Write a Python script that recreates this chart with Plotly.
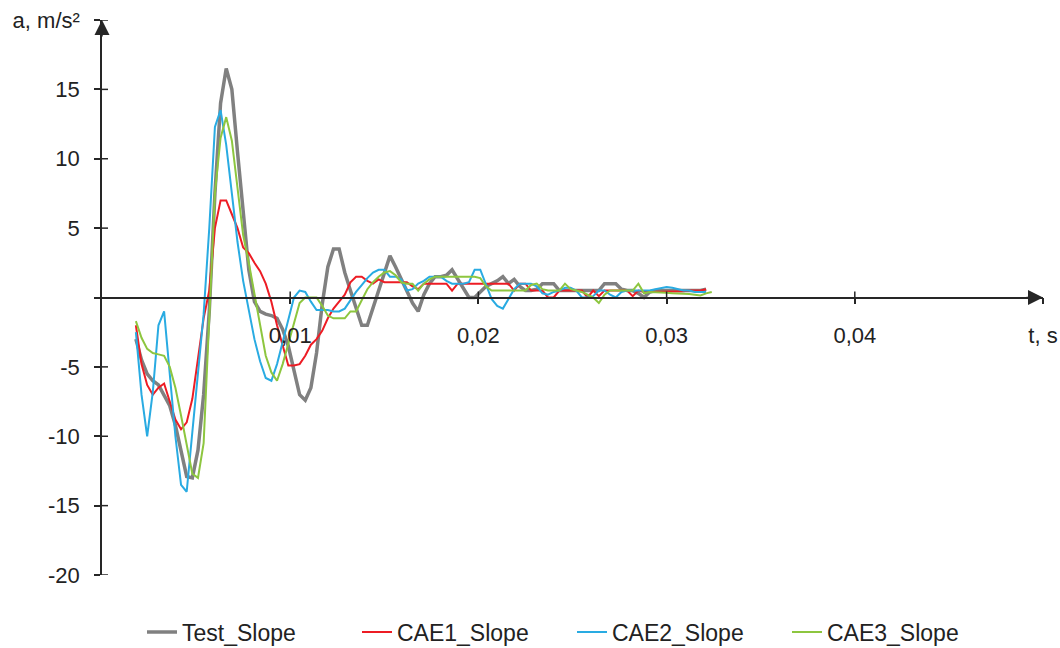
import plotly.graph_objects as go

# time grid (s)
T0 = 0.0018
DT = 0.0003

test_slope = [-3.0, -4.5, -5.5, -6.0, -6.3, -7.0, -7.8, -9.2, -11.0, -12.9,
              -13.0, -11.0, -7.0, -1.0, 7.5, 14.0, 16.5, 15.0, 10.5, 6.0,
              2.0, -0.3, -1.0, -1.2, -1.3, -1.5, -2.3, -3.5, -5.2, -7.0,
              -7.4, -6.5, -4.0, -0.5, 2.2, 3.5, 3.5, 1.8, 0.5, -0.8,
              -2.0, -2.0, -0.7, 0.5, 1.8, 3.0, 2.2, 1.3, 0.4, -0.4,
              -1.0, 0.2, 1.0, 1.5, 1.5, 1.6, 2.0, 1.3, 0.6, 0.0,
              0.0, 0.4, 0.8, 1.0, 1.2, 1.5, 1.0, 1.3, 0.8, 0.5,
              0.5, 0.6, 1.0, 1.0, 1.0, 0.5, 0.5, 0.5, 0.5, 0.5,
              0.5, 0.5, 0.5, 1.0, 1.0, 1.0, 0.6, 0.5, 0.5, 0.3,
              0.0, 0.4, 0.5, 0.5, 0.5, 0.5, 0.5, 0.5, 0.5, 0.5,
              0.5, 0.6]

cae1_slope = [-2.0, -4.8, -6.3, -7.0, -6.5, -6.2, -7.5, -8.8, -9.5, -9.0,
              -7.3, -4.5, -1.5, 0.5, 5.0, 7.0, 7.0, 6.0, 5.0, 3.6,
              3.2, 2.5, 1.9, 1.0, -0.3, -2.0, -3.4, -4.9, -4.9, -4.8,
              -4.2, -3.4, -3.0, -2.4, -1.5, -0.8, -0.3, 0.2, 1.1, 1.5,
              1.5, 1.2, 1.0, 1.3, 1.1, 1.1, 1.1, 1.1, 1.1, 0.8,
              0.6, 1.0, 1.0, 1.0, 1.0, 1.0, 0.5, 1.0, 1.0, 1.0,
              1.0, 1.0, 1.0, 1.0, 1.0, 1.0, 1.0, 0.5, 1.0, 1.0,
              0.5, 0.5, 0.5, 0.0, 0.0, 0.5, 0.5, 0.5, 0.5, 0.5,
              0.0, 0.5, 0.1, 0.5, 0.5, 0.5, 0.5, 0.5, 0.1, 0.5,
              0.4, 0.4, 0.4, 0.4, 0.4, 0.4, 0.4, 0.45, 0.5, 0.5,
              0.5, 0.6]

cae2_slope = [-2.5, -7.0, -10.0, -6.8, -2.0, -1.0, -5.5, -10.0, -13.5, -14.0,
              -9.7, -5.5, -1.2, 5.0, 12.3, 13.5, 11.0, 7.5, 4.0, 1.2,
              -1.0, -3.0, -4.6, -5.8, -6.0, -4.8, -3.2, -1.5, 0.0, 0.5,
              0.4, -0.3, -0.9, -0.9, -0.9, -1.0, -1.0, -0.8, -0.2, 0.4,
              0.9, 1.4, 1.8, 2.0, 2.0, 1.5, 1.5, 1.3, 0.5, 0.6,
              1.0, 1.2, 1.5, 1.5, 1.5, 1.2, 1.0, 1.0, 1.0, 1.1,
              2.0, 2.0, 1.0, -0.1, -0.6, -0.8, -0.1, 0.6, 1.0, 1.0,
              1.0, 0.8, 0.3, 0.2, 0.4, 0.5, 0.7, 0.7, 0.5, 0.0,
              0.0, 0.1, 0.5, 0.5, 0.2, 0.0, 0.4, 0.5, 0.5, 0.5,
              0.5, 0.5, 0.6, 0.7, 0.75, 0.7, 0.6, 0.5, 0.5, 0.4,
              0.4, 0.4]

cae3_slope = [-1.7, -2.9, -3.7, -4.0, -4.1, -4.2, -5.0, -6.5, -8.5, -10.5,
              -12.7, -13.0, -10.5, -1.5, 7.5, 11.5, 13.0, 11.3, 8.0, 4.5,
              2.5, 0.3, -2.2, -4.2, -5.4, -6.0, -4.8, -3.3, -1.7, -0.4,
              0.0, 0.0, 0.0, -0.6, -1.3, -1.5, -1.5, -1.5, -1.0, -1.0,
              -0.2, 0.6, 1.1, 1.5, 1.8, 1.9, 1.6, 1.1, 1.0, 1.0,
              0.5, 1.0, 1.3, 1.5, 1.5, 1.5, 1.5, 1.5, 1.5, 1.5,
              1.5, 1.4, 0.8, 0.5, 0.5, 0.5, 0.5, 0.5, 0.5, 0.5,
              0.9, 1.0, 0.6, 0.5, 0.5, 0.5, 1.0, 0.6, 0.5, 0.4,
              0.2, 0.0, -0.4, 0.2, 0.5, 0.5, 0.5, 0.5, 0.5, 1.0,
              0.3, 0.4, 0.4, 0.4, 0.35, 0.3, 0.3, 0.3, 0.25, 0.2,
              0.15, 0.3, 0.4]

series_names = ["Test_Slope", "CAE1_Slope", "CAE2_Slope", "CAE3_Slope"]
series_values = [test_slope, cae1_slope, cae2_slope, cae3_slope]
series_colors = ["#808080", "#ed1c24", "#29abe2", "#8dc63f"]
series_widths = [3.5, 2, 2, 2]

x_tickvals = [0.01, 0.02, 0.03, 0.04, 0.05]
x_ticktext = ["0,01", "0,02", "0,03", "0,04", "t, s"]
y_tickvals = [-20, -15, -10, -5, 0, 5, 10, 15, 20]
y_ticktext = ["-20", "-15", "-10", "-5", "", "5", "10", "15", "a, m/s²"]

FONT = "Liberation Sans, Arial, sans-serif"
AXIS_COLOR = "#262626"
TEXT_COLOR = "#222222"

fig = go.Figure()
for name, vals, col, w in zip(series_names, series_values, series_colors, series_widths):
    t = [round(T0 + DT * i, 6) for i in range(len(vals))]
    fig.add_trace(go.Scatter(x=t, y=vals, mode="lines", name=name,
                             line=dict(color=col, width=w)))

shapes = []
# inner halves of the crossing tick marks
for v in y_tickvals:
    if v == 0:
        continue
    shapes.append(dict(type="line", xref="x", yref="y", xsizemode="pixel", xanchor=0,
                       x0=0, x1=6, y0=v, y1=v, line=dict(color=AXIS_COLOR, width=1.5)))
for v in x_tickvals[:-1]:
    shapes.append(dict(type="line", xref="x", yref="y", ysizemode="pixel", yanchor=0,
                       x0=v, x1=v, y0=0, y1=6, line=dict(color=AXIS_COLOR, width=1.5)))

annotations = [
    dict(x=0.05, y=0, xref="x", yref="y", ax=-18, ay=0, text="", showarrow=True,
         arrowhead=2, arrowsize=2, arrowwidth=1.5, arrowcolor=AXIS_COLOR),
    dict(x=0, y=20, xref="x", yref="y", ax=0, ay=18, text="", showarrow=True,
         arrowhead=2, arrowsize=2, arrowwidth=1.5, arrowcolor=AXIS_COLOR),
]

fig.update_layout(
    width=1060, height=648,
    margin=dict(l=102, r=17, t=20, b=73, autoexpand=False),
    paper_bgcolor="white", plot_bgcolor="white",
    font=dict(family=FONT, size=22, color=TEXT_COLOR),
    showlegend=True,
    legend=dict(orientation="h", x=142 / 1060, xref="container", xanchor="left",
                y=-0.103, yanchor="middle",
                entrywidth=170, entrywidthmode="pixels",
                font=dict(family=FONT, size=23, color=TEXT_COLOR)),
    xaxis=dict(range=[0, 0.05], anchor="free", position=0.5, automargin=False,
               showline=True, linecolor=AXIS_COLOR, linewidth=1.5,
               ticks="outside", ticklen=6, tickwidth=1.5, tickcolor=AXIS_COLOR,
               tickvals=x_tickvals, ticktext=x_ticktext, ticklabelstandoff=12,
               showgrid=False, zeroline=False),
    yaxis=dict(range=[-20, 20], automargin=False,
               showline=True, linecolor=AXIS_COLOR, linewidth=1.5,
               ticks="outside", ticklen=6, tickwidth=1.5, tickcolor=AXIS_COLOR,
               tickvals=y_tickvals, ticktext=y_ticktext, ticklabelstandoff=10,
               showgrid=False, zeroline=False),
    shapes=shapes,
    annotations=annotations,
)

fig.write_html("out.html",
               config={"displayModeBar": False},
               post_script="document.body.style.margin='0';document.body.style.overflow='hidden';")
